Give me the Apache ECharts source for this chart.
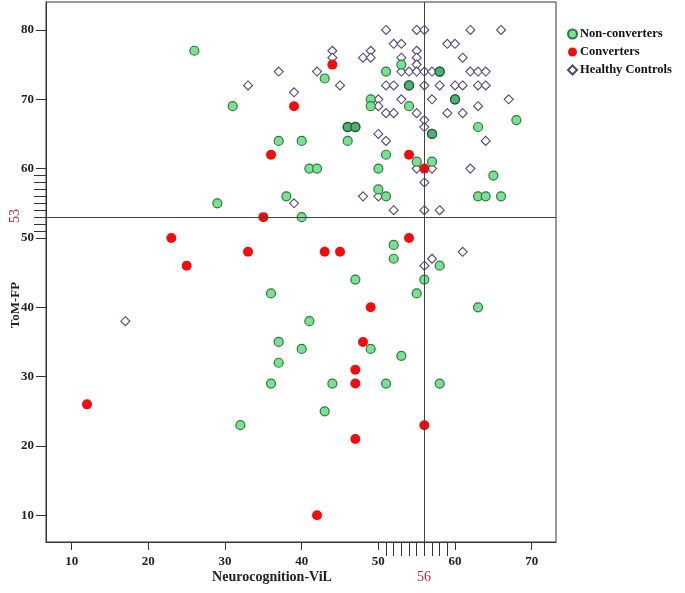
<!DOCTYPE html>
<html>
<head>
<meta charset="utf-8">
<script src="https://cdn.jsdelivr.net/npm/echarts@6/dist/echarts.min.js"></script>
<style>html,body{margin:0;padding:0;background:#fff;}#c{width:685px;height:593px;}</style>
</head>
<body>
<div id="c"></div>
<script>
// ---- data (x = Neurocognition-ViL, y = ToM-FP) ----
const nonConverters = [[26,77],[31,69],[29,55],[37,64],[40,64],[41,60],[42,60],[38,56],[40,53],[43,73],
  [49,70],[49,69],[46,66],[47,66],[46,64],[53,75],[51,74],[54,72],[58,74],[60,70],[54,69],[63,66],[68,67],
  [57,65],[51,62],[50,60],[55,61],[57,61],[65,59],[50,57],[51,56],[63,56],[64,56],[66,56],
  [36,42],[37,35],[37,32],[36,29],[40,34],[32,23],[52,49],[52,47],[58,46],[47,44],[56,44],[55,42],
  [63,40],[41,38],[49,34],[53,33],[44,29],[51,29],[58,29],[43,25]];
// overlapping (repeated) non-converter cases that print darker
const nonConvertersOverlap = [[46,66],[47,66],[54,72],[58,74],[60,70],[57,65]];
const converters = [[44,75],[39,69],[36,62],[54,62],[56,60],[35,53],[23,50],[25,46],[33,48],[54,50],
  [43,48],[45,48],[49,40],[48,35],[47,31],[47,29],[12,26],[47,21],[56,23],[42,10]];
const healthyControls = [[51,80],[55,80],[56,80],[62,80],[66,80],
  [52,78],[53,78],[59,78],[60,78],
  [44,77],[49,77],[55,77],
  [44,76],[48,76],[49,76],[53,76],[55,76],[61,76],
  [55,75],
  [37,74],[42,74],[53,74],[54,74],[55,74],[56,74],[57,74],[62,74],[63,74],[64,74],
  [33,72],[45,72],[51,72],[52,72],[56,72],[58,72],[60,72],[61,72],[63,72],[64,72],
  [39,71],
  [50,70],[53,70],[57,70],[67,70],
  [50,69],[63,69],
  [51,68],[52,68],[55,68],[59,68],[61,68],
  [56,67],[56,66],[50,65],[51,64],[64,64],
  [55,60],[57,60],[62,60],[56,58],[48,56],[50,56],[39,55],[52,54],[56,54],[58,54],
  [61,48],[57,47],[56,46],[17,38]];
const cutX = 56, cutY = 53;
const xTickLabels = [10,20,30,40,50,60,70];
const yTickLabels = [10,20,30,40,50,60,70,80];
const xMinorTicks = [51,52,53,54,55,56,57,58,59];
const yMinorTicks = [51,52,53,54,55,56,57,58,59];
const seriesNames = ['Non-converters','Converters','Healthy Controls'];

const X_MIN = 6.65, X_MAX = 73.17, Y_MIN = 6.15, Y_MAX = 84.03;
const serif = 'Liberation Serif';
const chart = echarts.init(document.getElementById('c'), null, {renderer:'canvas'});

const greenFill = '#7ddf8f', greenBorder = '#2a7a45';
chart.setOption({
  animation: false,
  backgroundColor: '#fff',
  grid: {left: 46, right: 129, top: 2, bottom: 51, show: true, borderColor: '#333', borderWidth: 1, containLabel: false, outerBoundsMode: 'none'},
  legend: {
    data: seriesNames, orient: 'vertical', left: 562, top: 22, itemGap: 4,
    itemWidth: 9, itemHeight: 9,
    textStyle: {fontFamily: serif, fontWeight: 'bold', fontSize: 12.5, color: '#111', padding: [0,0,0,-2], lineHeight: 14}
  },
  xAxis: [{
    type: 'value', min: X_MIN, max: X_MAX,
    axisLine: {show: true, lineStyle: {color: '#333'}},
    axisTick: {show: true, length: 8, customValues: xTickLabels, lineStyle: {color: '#333'}},
    axisLabel: {customValues: xTickLabels, fontFamily: serif, fontWeight: 'bold', fontSize: 13, color: '#222', margin: 13},
    splitLine: {show: false}
  }, {
    type: 'value', min: X_MIN, max: X_MAX, position: 'bottom',
    axisLine: {show: false},
    axisTick: {show: true, length: 14, customValues: xMinorTicks, lineStyle: {color: '#333'}},
    axisLabel: {show: false}, splitLine: {show: false}
  }],
  yAxis: [{
    type: 'value', min: Y_MIN, max: Y_MAX,
    axisLine: {show: true, lineStyle: {color: '#333'}},
    axisTick: {show: true, length: 10, customValues: yTickLabels, lineStyle: {color: '#333'}},
    axisLabel: {customValues: yTickLabels, fontFamily: serif, fontWeight: 'bold', fontSize: 13, color: '#222', margin: 12},
    splitLine: {show: false}
  }, {
    type: 'value', min: Y_MIN, max: Y_MAX, position: 'left',
    axisLine: {show: false},
    axisTick: {show: true, length: 12, customValues: yMinorTicks, lineStyle: {color: '#333'}},
    axisLabel: {show: false}, splitLine: {show: false}
  }],
  graphic: [
    {type: 'text', x: 272, y: 577, style: {text: 'Neurocognition-ViL', font: 'bold 14px "Liberation Serif"', fill: '#222', align: 'center', verticalAlign: 'middle'}},
    {type: 'text', x: 16, y: 305, rotation: Math.PI/2, style: {text: 'ToM-FP', font: 'bold 13px "Liberation Serif"', fill: '#222', align: 'center', verticalAlign: 'middle'}},
    {type: 'text', x: 424, y: 577, style: {text: String(cutX), font: '14px "Liberation Serif"', fill: '#c8202a', align: 'center', verticalAlign: 'middle'}},
    {type: 'text', x: 15, y: 216, rotation: Math.PI/2, style: {text: String(cutY), font: '14px "Liberation Serif"', fill: '#c8202a', align: 'center', verticalAlign: 'middle'}}
  ],
  series: [
    {
      name: 'Healthy Controls', type: 'scatter', data: healthyControls, symbol: 'diamond', symbolSize: [9, 9],
      itemStyle: {color: '#ffffff', borderColor: '#4a4a74', borderWidth: 1.1, opacity: 1},
      markLine: {
        silent: true, symbol: 'none', animation: false,
        label: {show: false},
        lineStyle: {color: '#444', width: 1, type: 'solid'},
        data: [{xAxis: cutX}, {yAxis: cutY}]
      }
    },
    {
      name: 'Non-converters', type: 'scatter', data: nonConverters, symbol: 'circle', symbolSize: 9,
      itemStyle: {color: greenFill, borderColor: greenBorder, borderWidth: 1.2, opacity: 1}
    },
    {
      name: 'Non-converters (overlap)', type: 'scatter', data: nonConvertersOverlap, symbol: 'circle', symbolSize: 9,
      itemStyle: {color: '#4fb274', borderColor: '#1d5a35', borderWidth: 1.3, opacity: 1}
    },
    {
      name: 'Converters', type: 'scatter', data: converters, symbol: 'circle', symbolSize: 10,
      itemStyle: {color: '#f00d0d', borderWidth: 0, opacity: 1}
    }
  ]
});
</script>
</body>
</html>
